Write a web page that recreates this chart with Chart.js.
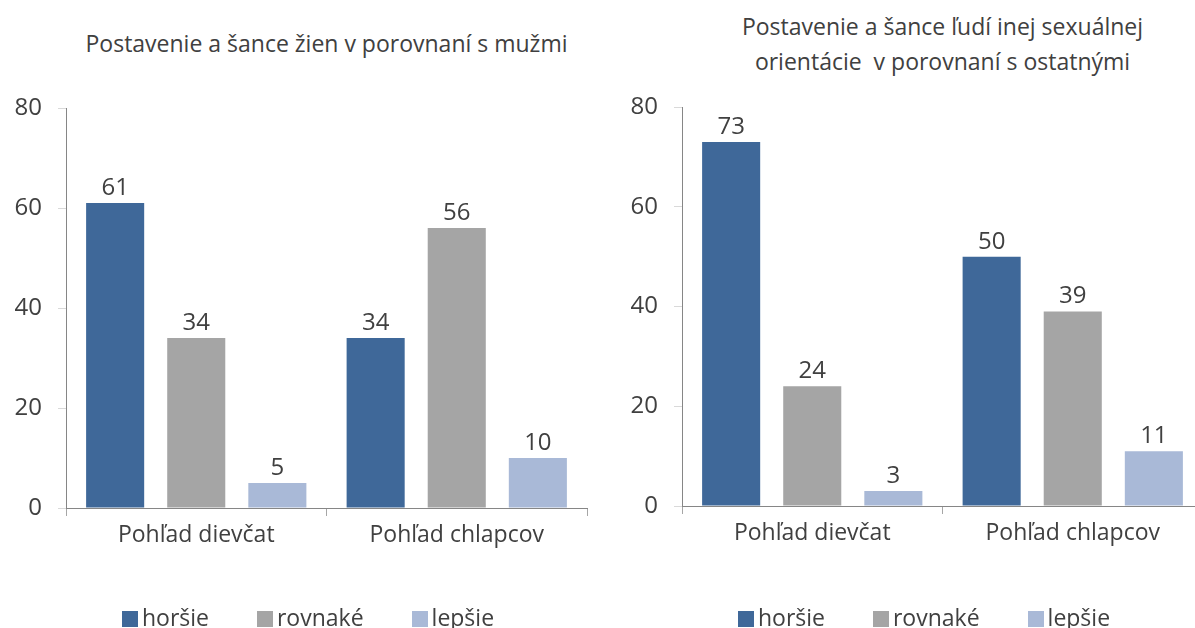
<!DOCTYPE html>
<html>
<head>
<meta charset="utf-8">
<script src="https://cdn.jsdelivr.net/npm/chart.js@4"></script>
<style>
  html, body { margin: 0; padding: 0; background: #fff; overflow: hidden; width: 1195px; height: 628px; }
  body { font-family: "Open Sans", "Liberation Sans", sans-serif; color: #404040; }
  .panel { position: absolute; top: 0; width: 616px; height: 628px; }
  .panel canvas { position: absolute; left: 0; top: 0; }
  .title { position: absolute; left: 66px; width: 521px; text-align: center; font-size: 23px; line-height: 35px; white-space: pre; }
  .legend { position: absolute; left: 0; width: 616px; top: 604px; height: 26px; display: flex; justify-content: center; gap: 48px; font-size: 23px; line-height: 26px; }
  .legend span.item { display: flex; align-items: center; }
  .legend i { display: inline-block; width: 16px; height: 16px; margin-right: 4px; margin-top: 3px; }
</style>
</head>
<body>
<div class="panel" id="p1" style="left:0">
  <div class="title" style="top:26px">Postavenie a šance žien v porovnaní s mužmi</div>
  <canvas id="c1" width="616" height="628"></canvas>
  <div class="legend" id="l1"></div>
</div>
<div class="panel" id="p2" style="left:616px">
  <div class="title" style="top:9px">Postavenie a šance ľudí inej sexuálnej
orientácie  v porovnaní s ostatnými</div>
  <canvas id="c2" width="616" height="628"></canvas>
  <div class="legend" id="l2"></div>
</div>
<script>
const categories = ['Pohľad dievčat', 'Pohľad chlapcov'];
const seriesNames = ['horšie', 'rovnaké', 'lepšie'];
const colours = ['#3F6899', '#A5A5A5', '#A9B9D7'];

// Postavenie a šance žien v porovnaní s mužmi
const zenyHorsie = [61, 34];
const zenyRovnake = [34, 56];
const zenyLepsie = [5, 10];

// Postavenie a šance ľudí inej sexuálnej orientácie
const orientHorsie = [73, 50];
const orientRovnake = [24, 39];
const orientLepsie = [3, 11];

const yMin = 0, yMax = 80, yStep = 20;

const textColour = '#404040';
const fontFamily = '"Open Sans", "Liberation Sans", sans-serif';

// numbers above the bars (no datalabels plugin available offline)
const valueLabels = {
  id: 'valueLabels',
  afterDatasetsDraw(chart) {
    const ctx = chart.ctx;
    ctx.save();
    ctx.font = '24px ' + fontFamily;
    ctx.fillStyle = textColour;
    ctx.textAlign = 'center';
    ctx.textBaseline = 'alphabetic';
    chart.data.datasets.forEach((ds, i) => {
      chart.getDatasetMeta(i).data.forEach((bar, j) => {
        ctx.fillText(ds.data[j], bar.x, bar.y - 8);
      });
    });
    ctx.restore();
  }
};

function makeChart(id, series, top, bottom) {
  const ctx = document.getElementById(id).getContext('2d');
  return new Chart(ctx, {
    type: 'bar',
    data: {
      labels: categories,
      datasets: series.map((data, i) => ({
        label: seriesNames[i],
        data,
        backgroundColor: colours[i],
        categoryPercentage: 0.934,
        barPercentage: 0.716
      }))
    },
    options: {
      responsive: false,
      animation: false,
      layout: { padding: { top: top, right: 29, left: 0, bottom: 0 } },
      plugins: { legend: { display: false }, tooltip: { enabled: false } },
      scales: {
        x: {
          grid: { offset: true, drawOnChartArea: false, drawTicks: true, tickLength: 8, color: '#A6A6A6' },
          border: { color: '#868686', width: 1 },
          ticks: { color: textColour, font: { family: fontFamily, size: 23 }, padding: 6, maxRotation: 0 },
          afterFit: s => { s.height = 628 - bottom; }
        },
        y: {
          min: yMin, max: yMax,
          grid: { drawOnChartArea: false, drawTicks: true, tickLength: 8, color: '#D9D9D9' },
          border: { color: '#868686', width: 1 },
          ticks: { stepSize: yStep, color: textColour, font: { family: fontFamily, size: 24 }, padding: 16 },
          afterFit: s => { s.width = 66; }
        }
      }
    },
    plugins: [valueLabels]
  });
}

function makeLegend(id) {
  const el = document.getElementById(id);
  seriesNames.forEach((name, i) => {
    const item = document.createElement('span');
    item.className = 'item';
    item.innerHTML = '<i style="background:' + colours[i] + '"></i>' + name;
    el.appendChild(item);
  });
}

makeChart('c1', [zenyHorsie, zenyRovnake, zenyLepsie], 108, 508);
makeChart('c2', [orientHorsie, orientRovnake, orientLepsie], 107, 506);
makeLegend('l1');
makeLegend('l2');
</script>
</body>
</html>
